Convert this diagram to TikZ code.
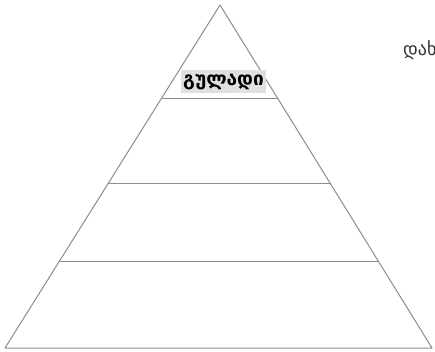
\documentclass[tikz,border=0pt]{standalone}
\usepackage{fontspec}
\setmainfont{DejaVu Sans}
\usetikzlibrary{calc}
\definecolor{edgegray}{RGB}{140,140,140}
\definecolor{labelgray}{RGB}{224,224,224}

\begin{document}
\begin{tikzpicture}[x=1pt, y=-1pt,
    edge/.style={draw=edgegray, line width=1pt},
    level/.style={rectangle, fill=labelgray, inner sep=0pt, minimum width=85pt, minimum height=23pt, font=\fontsize{19}{21}\selectfont\bfseries},
    note/.style={anchor=west, inner sep=0pt, font=\fontsize{18}{20}\selectfont, text=black!80}
]
\useasboundingbox (0,0) rectangle (435,351);
\clip (0,0) rectangle (435,351);

\coordinate (apex) at (220,5);
\coordinate (bl) at (5,348);
\coordinate (br) at (432,348);

% pyramid outline
\draw [edge, line join=round] (apex) -- (bl) -- (br) -- cycle;

% level separators
\foreach \f/\n in {0.274/one, 0.519/two, 0.749/three} {
  \coordinate (l\n) at ($(apex)!\f!(bl)$);
  \coordinate (r\n) at ($(apex)!\f!(br)$);
  \draw [edge] (l\n) -- (r\n);
}

\node (TOP) [level] at (223.5,81.5) {გულადი};
\node (SIDE) [note] at (403,50) {დახ};

\end{tikzpicture}
\end{document}
